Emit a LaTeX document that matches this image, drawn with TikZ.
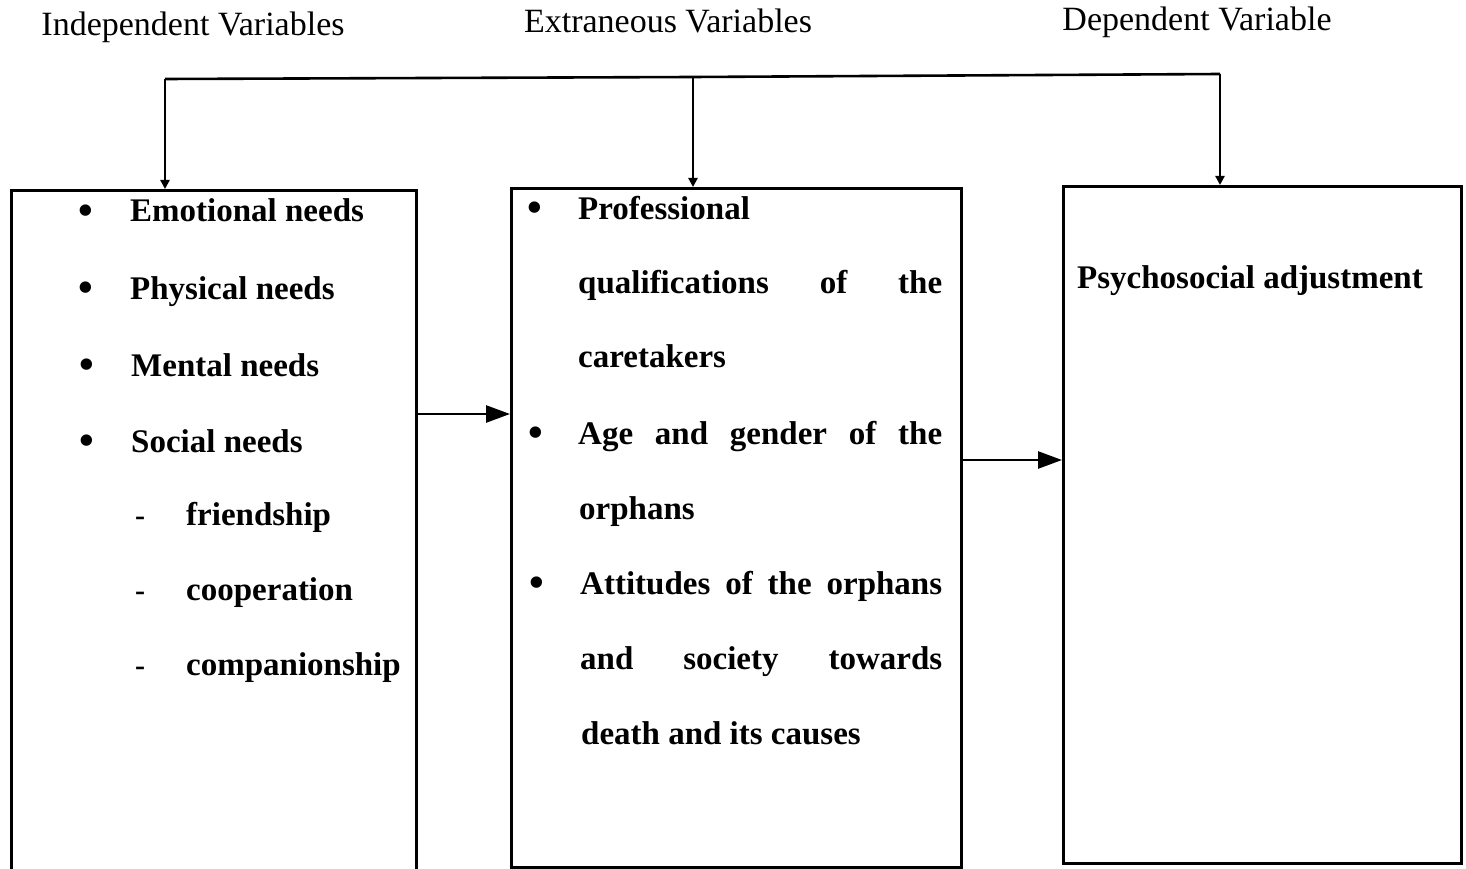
\documentclass[tikz,border=0pt]{standalone}
\usepackage{fontspec}
\setmainfont{Liberation Serif}
\usetikzlibrary{arrows.meta,positioning,calc}

\begin{document}
\begin{tikzpicture}[x=1pt, y=-1pt]
\tikzstyle{heading}=[font=\fontsize{34}{40}\selectfont, anchor=base, inner sep=0pt]
\tikzstyle{varbox}=[draw, line width=2.6pt, rectangle, anchor=north west, inner sep=0pt]
\tikzstyle{item}=[font=\fontsize{33}{40}\selectfont\bfseries, anchor=base west, inner sep=0pt]
\tikzstyle{bulletmark}=[font=\fontsize{42}{40}\selectfont\bfseries, anchor=base, inner sep=0pt]
\tikzstyle{dashmark}=[font=\fontsize{30}{40}\selectfont\bfseries, anchor=base, inner sep=0pt]
\tikzstyle{link}=[line width=2.6pt, -{Triangle[length=24pt, width=17pt]}]
\tikzstyle{drop}=[line width=2.6pt, -{Triangle[length=9pt, width=9pt]}]

\useasboundingbox (0,0) rectangle (1466,869);
\clip (0,0) rectangle (1466,869);

% headings
\node[heading] (indephead) at (193, 36) {Independent Variables};
\node[heading] (extrhead) at (668, 33) {Extraneous Variables};
\node[heading] (dephead) at (1197, 31) {Dependent Variable};

% boxes
\node[varbox, minimum width=405pt, minimum height=720pt] (indep) at (10, 189) {};
\node[varbox, minimum width=450pt, minimum height=679pt] (extr) at (510, 187) {};
\node[varbox, minimum width=398pt, minimum height=677pt] (dep) at (1062, 185) {};

% top connector
\coordinate (topL) at (165, 79);
\coordinate (topM) at (693, 77);
\coordinate (topR) at (1220, 74);
\draw[line width=2.6pt] (topL) -- (topM) -- (topR);
\draw[drop] (topL) -- (topL |- indep.north);
\draw[drop] (topM) -- (topM |- extr.north);
\draw[drop] (topR) -- (topR |- dep.north);

% side arrows
\draw[link] (indep.east |- 0, 414) -- (extr.west |- 0, 414);
\draw[link] (extr.east |- 0, 460) -- (dep.west |- 0, 460);

% independent variables
\node[bulletmark] (b1) at (86, 224) {\textbullet};
\node[item] (emo) at (130, 222) {Emotional needs};
\node[bulletmark] (b2) at (86, 301) {\textbullet};
\node[item] (phys) at (130, 299) {Physical needs};
\node[bulletmark] (b3) at (87, 378) {\textbullet};
\node[item] (ment) at (131, 376) {Mental needs};
\node[bulletmark] (b4) at (87, 454) {\textbullet};
\node[item] (soc) at (131, 452) {Social needs};
\node[dashmark] (d1) at (140, 525) {-};
\node[item] (friend) at (186, 525) {friendship};
\node[dashmark] (d2) at (140, 600) {-};
\node[item] (coop) at (186, 600) {cooperation};
\node[dashmark] (d3) at (140, 675) {-};
\node[item] (comp) at (186, 675) {companionship};

% extraneous variables
\node[bulletmark] (b5) at (535, 221) {\textbullet};
\node[item] (prof) at (578, 219) {Professional};
\node[item] (qual) at (578, 293) {\makebox[364pt][s]{qualifications of the}};
\node[item] (care) at (578, 367) {caretakers};
\node[bulletmark] (b6) at (536, 446) {\textbullet};
\node[item] (age) at (578, 444) {\makebox[364pt][s]{Age and gender of the}};
\node[item] (orph) at (579, 519) {orphans};
\node[bulletmark] (b7) at (537, 596) {\textbullet};
\node[item] (att) at (580, 594) {\makebox[362pt][s]{Attitudes of the orphans}};
\node[item] (soci) at (580, 669) {\makebox[362pt][s]{and society towards}};
\node[item] (death) at (581, 744) {death and its causes};

% dependent variable
\node[item] (psych) at (1077, 288) {Psychosocial adjustment};

\end{tikzpicture}
\end{document}
